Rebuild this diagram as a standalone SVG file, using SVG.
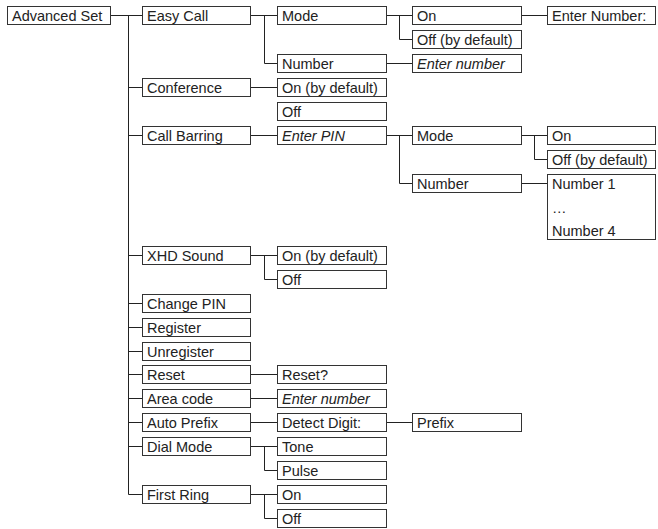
<svg xmlns="http://www.w3.org/2000/svg" width="658" height="529" viewBox="0 0 658 529">
<style>
rect{fill:#fff;stroke:#333;stroke-width:1}
text{font-family:"Liberation Sans",Arial,sans-serif;font-size:14.5px;fill:#222}
.i{font-style:italic}
#connectors path{fill:none;stroke:#222;stroke-width:1}
</style>
<rect x="0" y="0" width="658" height="529" style="stroke:none"/>
<g id="connectors">
<path d="M110.5 15.5H142.5M128.5 15.5V494.5M128.5 87.5H142.5M128.5 135.5H142.5M128.5 255.5H142.5M128.5 303.5H142.5M128.5 327.5H142.5M128.5 351.5H142.5M128.5 374.5H142.5M128.5 398.5H142.5M128.5 422.5H142.5M128.5 446.5H142.5M128.5 494.5H142.5"/>
<path d="M250.5 15.5H277.5M264.5 15.5V63.5H277.5M386.5 15.5H412.5M399.5 15.5V39.5H412.5M521.5 15.5H547.5M386.5 63.5H412.5"/>
<path d="M250.5 87.5H277.5"/>
<path d="M250.5 135.5H277.5M386.5 135.5H412.5M399.5 135.5V183.5H412.5M521.5 135.5H547.5M534.5 135.5V159.5H547.5M521.5 183.5H547.5"/>
<path d="M250.5 255.5H277.5M264.5 255.5V279.5H277.5"/>
<path d="M250.5 374.5H277.5M250.5 398.5H277.5M250.5 422.5H277.5M386.5 422.5H412.5"/>
<path d="M250.5 446.5H277.5M264.5 446.5V470.5H277.5M250.5 494.5H277.5M264.5 494.5V518.5H277.5"/>
</g>
<g id="n-advanced"><rect x="7.5" y="6.5" width="103" height="18"/><text x="12" y="20.5">Advanced Set</text></g>
<g id="n-easycall"><rect x="142.5" y="6.5" width="108" height="18"/><text x="147" y="20.5">Easy Call</text></g>
<g id="n-ec-mode"><rect x="277.5" y="6.5" width="109" height="18"/><text x="282" y="20.5">Mode</text></g>
<g id="n-ec-on"><rect x="412.5" y="6.5" width="109" height="18"/><text x="417" y="20.5">On</text></g>
<g id="n-ec-enter"><rect x="547.5" y="6.5" width="108" height="18"/><text x="552" y="20.5">Enter Number:</text></g>
<g id="n-ec-off"><rect x="412.5" y="30.5" width="109" height="18"/><text x="417" y="44.5">Off (by default)</text></g>
<g id="n-ec-number"><rect x="277.5" y="54.5" width="109" height="18"/><text x="282" y="68.5">Number</text></g>
<g id="n-ec-enternum"><rect x="412.5" y="54.5" width="109" height="18"/><text class="i" x="417" y="68.5">Enter number</text></g>
<g id="n-conf"><rect x="142.5" y="78.5" width="108" height="18"/><text x="147" y="92.5">Conference</text></g>
<g id="n-conf-on"><rect x="277.5" y="78.5" width="109" height="18"/><text x="282" y="92.5">On (by default)</text></g>
<g id="n-conf-off"><rect x="277.5" y="102.5" width="109" height="18"/><text x="282" y="116.5">Off</text></g>
<g id="n-cb"><rect x="142.5" y="126.5" width="108" height="18"/><text x="147" y="140.5">Call Barring</text></g>
<g id="n-cb-pin"><rect x="277.5" y="126.5" width="109" height="18"/><text class="i" x="282" y="140.5">Enter PIN</text></g>
<g id="n-cb-mode"><rect x="412.5" y="126.5" width="109" height="18"/><text x="417" y="140.5">Mode</text></g>
<g id="n-cb-on"><rect x="547.5" y="126.5" width="108" height="18"/><text x="552" y="140.5">On</text></g>
<g id="n-cb-off"><rect x="547.5" y="150.5" width="108" height="18"/><text x="552" y="164.5">Off (by default)</text></g>
<g id="n-cb-number"><rect x="412.5" y="174.5" width="109" height="18"/><text x="417" y="188.5">Number</text></g>
<g id="n-cb-numbers"><rect x="547.5" y="174.5" width="108" height="65"/><text x="552" y="188.5">Number 1</text><text x="552" y="212.5">…</text><text x="552" y="236">Number 4</text></g>
<g id="n-xhd"><rect x="142.5" y="246.5" width="108" height="18"/><text x="147" y="260.5">XHD Sound</text></g>
<g id="n-xhd-on"><rect x="277.5" y="246.5" width="109" height="18"/><text x="282" y="260.5">On (by default)</text></g>
<g id="n-xhd-off"><rect x="277.5" y="270.5" width="109" height="18"/><text x="282" y="284.5">Off</text></g>
<g id="n-pin"><rect x="142.5" y="294.5" width="108" height="18"/><text x="147" y="308.5">Change PIN</text></g>
<g id="n-reg"><rect x="142.5" y="318.5" width="108" height="18"/><text x="147" y="332.5">Register</text></g>
<g id="n-unreg"><rect x="142.5" y="342.5" width="108" height="18"/><text x="147" y="356.5">Unregister</text></g>
<g id="n-reset"><rect x="142.5" y="365.5" width="108" height="18"/><text x="147" y="379.5">Reset</text></g>
<g id="n-reset-q"><rect x="277.5" y="365.5" width="109" height="18"/><text x="282" y="379.5">Reset?</text></g>
<g id="n-area"><rect x="142.5" y="389.5" width="108" height="18"/><text x="147" y="403.5">Area code</text></g>
<g id="n-area-num"><rect x="277.5" y="389.5" width="109" height="18"/><text class="i" x="282" y="403.5">Enter number</text></g>
<g id="n-ap"><rect x="142.5" y="413.5" width="108" height="18"/><text x="147" y="427.5">Auto Prefix</text></g>
<g id="n-ap-digit"><rect x="277.5" y="413.5" width="109" height="18"/><text x="282" y="427.5">Detect Digit:</text></g>
<g id="n-ap-prefix"><rect x="412.5" y="413.5" width="109" height="18"/><text x="417" y="427.5">Prefix</text></g>
<g id="n-dial"><rect x="142.5" y="437.5" width="108" height="18"/><text x="147" y="451.5">Dial Mode</text></g>
<g id="n-dial-tone"><rect x="277.5" y="437.5" width="109" height="18"/><text x="282" y="451.5">Tone</text></g>
<g id="n-dial-pulse"><rect x="277.5" y="461.5" width="109" height="18"/><text x="282" y="475.5">Pulse</text></g>
<g id="n-fr"><rect x="142.5" y="485.5" width="108" height="18"/><text x="147" y="499.5">First Ring</text></g>
<g id="n-fr-on"><rect x="277.5" y="485.5" width="109" height="18"/><text x="282" y="499.5">On</text></g>
<g id="n-fr-off"><rect x="277.5" y="509.5" width="109" height="18"/><text x="282" y="523.5">Off</text></g>
</svg>
